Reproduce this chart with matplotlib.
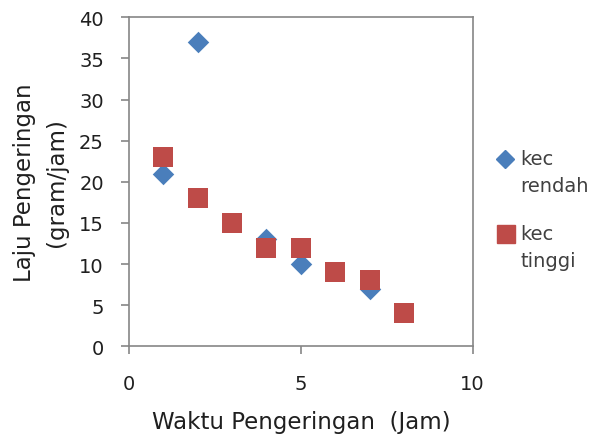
import matplotlib
matplotlib.use("Agg")
import matplotlib.pyplot as plt

# data
x_rendah = [1, 2, 4, 5, 7]
y_rendah = [21, 37, 13, 10, 7]

x_tinggi = [1, 2, 3, 4, 5, 6, 7, 8]
y_tinggi = [23, 18, 15, 12, 12, 9, 8, 4]

xticks = [0, 5, 10]
yticks = [0, 5, 10, 15, 20, 25, 30, 35, 40]

labels = ['kec\nrendah', 'kec\ntinggi']

blue = '#4a7ebb'
red = '#be4b48'
grey = '#868686'
dark = '#1f1f1f'
txt = '#404040'

fig = plt.figure(figsize=(6.01, 4.39), dpi=100)
ax = fig.add_axes([0.2146, 0.2089, 0.5719, 0.7494])

ax.scatter(x_rendah, y_rendah, marker='D', s=120, color=blue, linewidths=0, zorder=3)
ax.scatter(x_tinggi, y_tinggi, marker='s', s=207, color=red, linewidths=0, zorder=4)

ax.set_xlim(0, 10)
ax.set_ylim(0, 40)
ax.set_xticks(xticks)
ax.set_yticks(yticks)
for s in ax.spines.values():
    s.set_color(grey)
    s.set_linewidth(1.2)
ax.tick_params(direction='out', length=6, width=1.2, color=grey, labelsize=14,
               labelcolor=dark)
ax.tick_params(axis='x', pad=14)
ax.tick_params(axis='y', pad=12)

ax.set_xlabel('Waktu Pengeringan  (Jam)', fontsize=16.5, color=dark, va='center')
ax.xaxis.set_label_coords(0.5, -0.23)
ax.set_ylabel('Laju Pengeringan\n(gram/jam)', fontsize=16.5, color=dark,
              va='center', linespacing=1.45)
ax.yaxis.set_label_coords(-0.2575, 0.5)

# legend, drawn by hand so the marker sits next to the first line
ax.plot([0.840], [0.6355], marker='D', ms=9.5, color=blue, linestyle='none',
        transform=fig.transFigure, clip_on=False)
ax.plot([0.842], [0.4647], marker='s', ms=13, color=red, linestyle='none',
        transform=fig.transFigure, clip_on=False)
fig.text(0.866, 0.658, labels[0], fontsize=14, color=txt, va='top', linespacing=1.55)
fig.text(0.866, 0.488, labels[1], fontsize=14, color=txt, va='top', linespacing=1.55)

fig.savefig('out.png', dpi=100)
